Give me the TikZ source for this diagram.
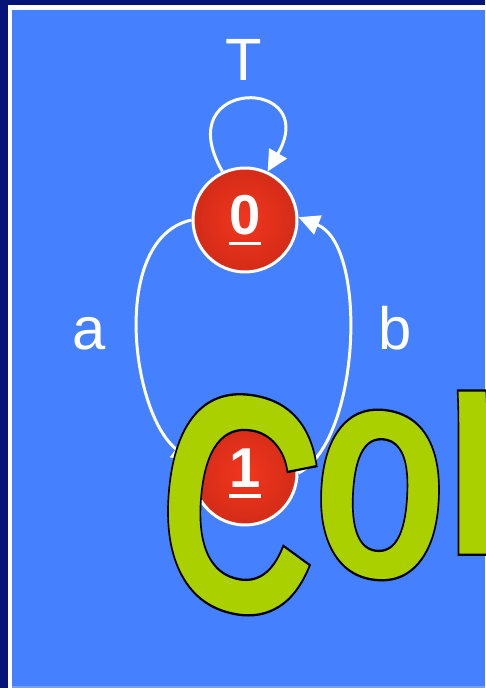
\documentclass[tikz,border=0pt]{standalone}
\usepackage{fontspec}
\setmainfont{Liberation Sans}
\usetikzlibrary{arrows.meta}
\definecolor{SlideBlue}{RGB}{69,128,255}
\definecolor{FrameNavy}{RGB}{6,20,122}
\definecolor{ArtGreen}{RGB}{170,208,0}
\definecolor{BallIn}{RGB}{242,54,30}
\definecolor{BallOut}{RGB}{156,26,12}
\pgfdeclareradialshading{redball}{\pgfpoint{0bp}{0bp}}{color(0bp)=(BallIn); color(28bp)=(BallIn!60!BallOut); color(50bp)=(BallOut)}
% underlined state number
\newcommand\statenum[1]{\setbox0\hbox{#1}\rlap{\rule[-6pt]{\wd0}{1.8pt}}\box0}
% filled letters with a black outline
\newcommand\wordart[1]{\special{pdf:literal direct 0 0 0 RG 2 Tr 1.3 w}#1\special{pdf:literal direct 0 Tr}}

\begin{document}
\begin{tikzpicture}[x=0.02cm, y=0.02cm,
    statenode/.style={circle, draw=white, line width=0.06cm, shade, shading=redball,
                      minimum size=2.08cm, inner sep=0pt, text=white,
                      font=\fontsize{32}{32}\selectfont\bfseries},
    trans/.style={draw=white, line width=0.06cm, -{Triangle[length=0.42cm, width=0.4cm]}},
    lbl/.style={text=white, anchor=base, inner sep=0pt, font=\fontsize{34}{34}\selectfont},
    artletter/.style={text=ArtGreen, inner sep=0pt, font=\bfseries\fontsize{177}{177}\selectfont}
]
    \useasboundingbox (0,0) rectangle (485,688);

    % Slide frame
    \fill[FrameNavy] (0,0) rectangle (485,688);
    \fill[white] (8,0) rectangle (485,683);
    \fill[SlideBlue] (12,0) rectangle (485,678);
    \fill[SlideBlue!75!white] (12,0) rectangle (485,1.5);

    % States
    \node[statenode] (n0) at (245,468) {\statenum{0}};
    \node[statenode] (n1) at (245,215) {\statenum{1}};

    % Transitions
    \draw[trans] (n0.115) .. controls +(120:110) and +(60:110) .. (n0.65);
    \draw[trans] (n0.west) .. controls +(-82,-18) and +(-62,48) .. (n1.168);
    \draw[trans] (n1.east) .. controls +(62,32) and +(70,-28) .. (n0.3);

    \node[lbl] (lblT) at (244,607) {T};
    \node[lbl] (lbla) at (89,338) {a};
    \node[lbl] (lblb) at (395,338) {b};

    % Word art on top
    \node[artletter, xscale=0.72, rotate=-7] (artC) at (240,184) {\wordart{C}};
    \node[artletter, xscale=0.71, rotate=-5] (arto) at (380,193) {\wordart{o}};
    \node[artletter, xscale=0.7, anchor=west] (artn) at (443,217) {\wordart{n}};
\end{tikzpicture}
\end{document}
